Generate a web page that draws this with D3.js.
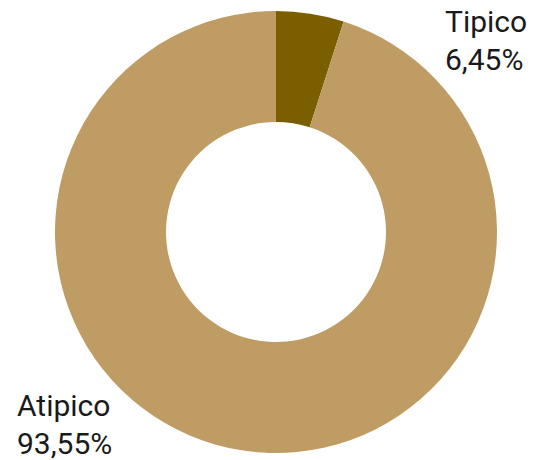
<!DOCTYPE html>
<html>
<head>
<meta charset="utf-8">
<script src="https://cdn.jsdelivr.net/npm/d3@7"></script>
<style>
  html, body { margin: 0; padding: 0; background: #fff; }
  svg { display: block; }
  .lbl { font-family: Roboto, "Noto Sans", sans-serif; font-size: 30px; fill: #1a1a1a; }
</style>
</head>
<body>
<svg id="chart" width="536" height="460"></svg>
<script>
// categories and shares as drawn (slice angle)
const categories = ['Tipico', 'Atipico'];
const shares = [4.95, 95.05];
const shareLabels = ['6,45%', '93,55%'];
const colors = ['#7b5e00', '#bf9c63'];

const width = 536, height = 460;
const cx = 276, cy = 232;
const outerR = 221, innerR = 110;

const svg = d3.select('#chart');
const g = svg.append('g').attr('transform', `translate(${cx},${cy})`);

const pie = d3.pie().sort(null).value(d => d.value);
const arc = d3.arc().innerRadius(innerR).outerRadius(outerR);

const data = categories.map((c, i) => ({ name: c, value: shares[i], label: shareLabels[i], color: colors[i] }));

g.selectAll('path')
  .data(pie(data))
  .enter().append('path')
  .attr('d', arc)
  .attr('fill', d => d.data.color);

// labels placed outside the ring
const labelPos = [
  { x: 445, y: 32 },
  { x: 17, y: 416 }
];

data.forEach((d, i) => {
  const t = svg.append('text')
    .attr('class', 'lbl')
    .attr('x', labelPos[i].x)
    .attr('y', labelPos[i].y);
  t.append('tspan').attr('x', labelPos[i].x).text(d.name);
  t.append('tspan').attr('x', labelPos[i].x).attr('dy', 38).text(d.label);
});
</script>
</body>
</html>
